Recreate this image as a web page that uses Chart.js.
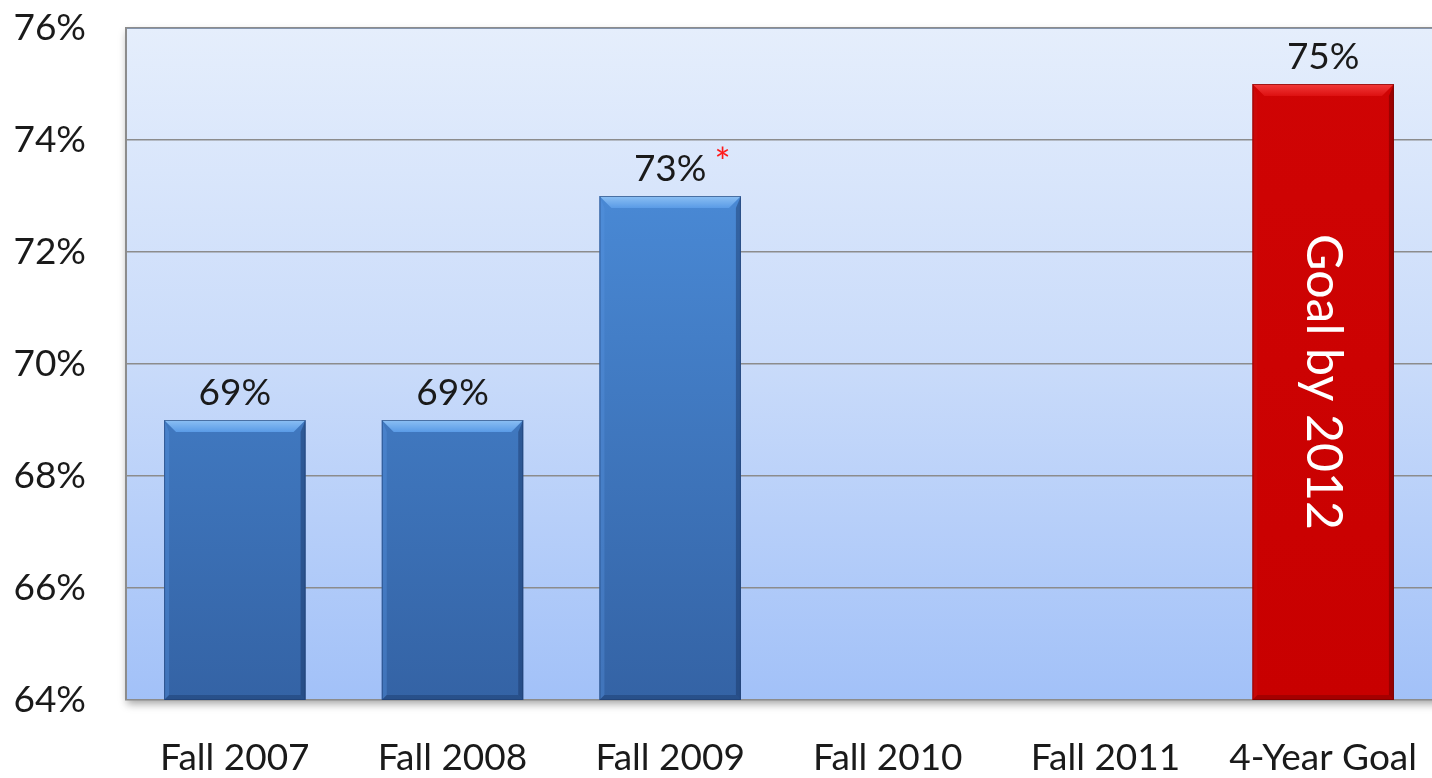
<!DOCTYPE html>
<html>
<head>
<meta charset="utf-8">
<script src="https://cdn.jsdelivr.net/npm/chart.js@4/dist/chart.umd.min.js"></script>
<style>
html,body{margin:0;padding:0;background:#fff;}
#wrap{width:1432px;height:778px;position:relative;}
</style>
</head>
<body>
<div id="wrap"><canvas id="c" width="1432" height="778"></canvas></div>
<script>
const categories = ["Fall 2007", "Fall 2008", "Fall 2009", "Fall 2010", "Fall 2011", "4-Year Goal"];
const values = [69, 69, 73, null, null, 75];
const valueLabels = ["69%", "69%", "73%", "", "", "75%"];
const labelMarks = ["", "", "*", "", "", ""];
const barKinds = ["actual", "actual", "actual", "actual", "actual", "goal"];
const insideLabels = ["", "", "", "", "", "Goal by 2012"];
const yMin = 64, yMax = 76, yStep = 2;

const FONT = "Lato, 'Open Sans', sans-serif";
const FS = 37;

function barGradient(ctx, area, kind) {
  const g = ctx.createLinearGradient(0, area.top, 0, area.bottom);
  if (kind === 'goal') {
    g.addColorStop(0, '#d00404');
    g.addColorStop(1, '#c80000');
  } else {
    g.addColorStop(0, '#5095e4');
    g.addColorStop(1, '#3463a5');
  }
  return g;
}

const bgPlugin = {
  id: 'plotBg',
  beforeDraw(chart) {
    const {ctx, chartArea: a} = chart;
    ctx.save();
    ctx.shadowColor = 'rgba(0,0,0,0.35)';
    ctx.shadowBlur = 8;
    ctx.shadowOffsetY = 4;
    ctx.shadowOffsetX = 1;
    const g = ctx.createLinearGradient(0, a.top, 0, a.bottom);
    g.addColorStop(0, '#e5eefc');
    g.addColorStop(0.5, '#c9dbfa');
    g.addColorStop(1, '#a2c1f8');
    ctx.fillStyle = g;
    ctx.fillRect(a.left, a.top, a.right - a.left + 10, a.bottom - a.top);
    ctx.restore();
    ctx.save();
    ctx.strokeStyle = '#7e9fce';
    ctx.lineWidth = 2;
    ctx.beginPath();
    ctx.moveTo(a.left, a.top);
    ctx.lineTo(a.right, a.top);
    ctx.stroke();
    ctx.restore();
  }
};

function barBox(chart, bar) {
  const p = bar.getProps(['x', 'y', 'base', 'width'], true);
  const bottom = Math.min(p.base, chart.chartArea.bottom);
  return {x: p.x, y: p.y, base: bottom, width: p.width};
}

const bevelPlugin = {
  id: 'bevel',
  afterDatasetsDraw(chart) {
    const {ctx} = chart;
    const meta = chart.getDatasetMeta(0);
    meta.data.forEach((bar, i) => {
      if (values[i] === null) return;
      const {x, y, base, width} = barBox(chart, bar);
      const l = x - width / 2, r = x + width / 2;
      const b = 12, s = 5;
      const goal = barKinds[i] === 'goal';
      ctx.save();
      const tg = ctx.createLinearGradient(0, y, 0, y + b);
      tg.addColorStop(0, goal ? '#f23a3a' : '#8cc0f4');
      tg.addColorStop(1, goal ? '#dd1010' : '#5a9be6');
      ctx.fillStyle = tg;
      ctx.beginPath();
      ctx.moveTo(l, y); ctx.lineTo(r, y); ctx.lineTo(r - b, y + b); ctx.lineTo(l + b, y + b); ctx.closePath();
      ctx.fill();
      ctx.fillStyle = goal ? 'rgba(200,20,20,0.35)' : 'rgba(90,150,225,0.35)';
      ctx.beginPath();
      ctx.moveTo(l, y); ctx.lineTo(l + s, y + b); ctx.lineTo(l + s, base - s); ctx.lineTo(l, base); ctx.closePath();
      ctx.fill();
      ctx.fillStyle = goal ? 'rgba(90,0,0,0.45)' : 'rgba(20,45,90,0.4)';
      ctx.beginPath();
      ctx.moveTo(r, y); ctx.lineTo(r - s, y + b); ctx.lineTo(r - s, base - s); ctx.lineTo(r, base); ctx.closePath();
      ctx.fill();
      ctx.fillStyle = goal ? 'rgba(100,0,0,0.35)' : 'rgba(20,45,90,0.35)';
      ctx.beginPath();
      ctx.moveTo(l, base); ctx.lineTo(r, base); ctx.lineTo(r - s, base - s); ctx.lineTo(l + s, base - s); ctx.closePath();
      ctx.fill();
      ctx.strokeStyle = goal ? 'rgba(110,0,0,0.6)' : 'rgba(30,60,110,0.6)';
      ctx.lineWidth = 1;
      ctx.strokeRect(l + 0.5, y + 0.5, width - 1, base - y - 1);
      ctx.restore();
    });
  }
};

const labelPlugin = {
  id: 'labels',
  afterDatasetsDraw(chart) {
    const {ctx} = chart;
    const meta = chart.getDatasetMeta(0);
    meta.data.forEach((bar, i) => {
      if (values[i] === null) return;
      const {x, y, base} = barBox(chart, bar);
      ctx.save();
      ctx.font = FS + 'px ' + FONT;
      ctx.fillStyle = '#1a1a1a';
      ctx.textAlign = 'center';
      ctx.textBaseline = 'alphabetic';
      const t = valueLabels[i];
      ctx.fillText(t, x, y - 15);
      if (labelMarks[i]) {
        const w = ctx.measureText(t).width;
        ctx.fillStyle = '#ff1a1a';
        ctx.font = '38px ' + FONT;
        ctx.textAlign = 'left';
        ctx.fillText(labelMarks[i], x + w / 2 + 8, y - 20);
      }
      if (insideLabels[i]) {
        ctx.translate(x, (y + base) / 2 - 10);
        ctx.rotate(Math.PI / 2);
        ctx.font = '50px ' + FONT;
        ctx.fillStyle = '#ffffff';
        ctx.textAlign = 'center';
        ctx.textBaseline = 'middle';
        ctx.fillText(insideLabels[i], 0, 0);
      }
      ctx.restore();
    });
  }
};

function zeroPad(s) { s.paddingTop = 0; s.paddingBottom = 0; s.paddingLeft = 0; s.paddingRight = 0; }

new Chart(document.getElementById('c'), {
  type: 'bar',
  data: {
    labels: categories,
    datasets: [{
      data: values,
      backgroundColor: (c) => {
        const a = c.chart.chartArea;
        if (!a) return '#4a88d6';
        return barGradient(c.chart.ctx, a, barKinds[c.dataIndex]);
      },
      borderWidth: 0,
      categoryPercentage: 1.0,
      barPercentage: 0.65
    }]
  },
  options: {
    responsive: false,
    animation: false,
    devicePixelRatio: 1,
    layout: { padding: { top: 28, right: 0, left: 0, bottom: 0 } },
    plugins: { legend: { display: false }, tooltip: { enabled: false } },
    scales: {
      x: {
        grid: { display: false, drawTicks: false },
        border: { display: false },
        ticks: { color: '#1a1a1a', font: { family: FONT, size: FS }, padding: 36, maxRotation: 0 },
        afterFit(s) { s.height = 78; zeroPad(s); }
      },
      y: {
        min: yMin, max: yMax,
        ticks: { stepSize: yStep, color: '#1a1a1a', font: { family: FONT, size: FS }, padding: 40,
                 callback: (v) => v + '%' },
        grid: { color: '#8c8c8c', lineWidth: 1.5, drawTicks: false },
        border: { display: true, color: '#8c8c8c', width: 2 },
        afterFit(s) { s.width = 126; zeroPad(s); }
      }
    }
  },
  plugins: [bgPlugin, bevelPlugin, labelPlugin]
});
</script>
</body>
</html>
